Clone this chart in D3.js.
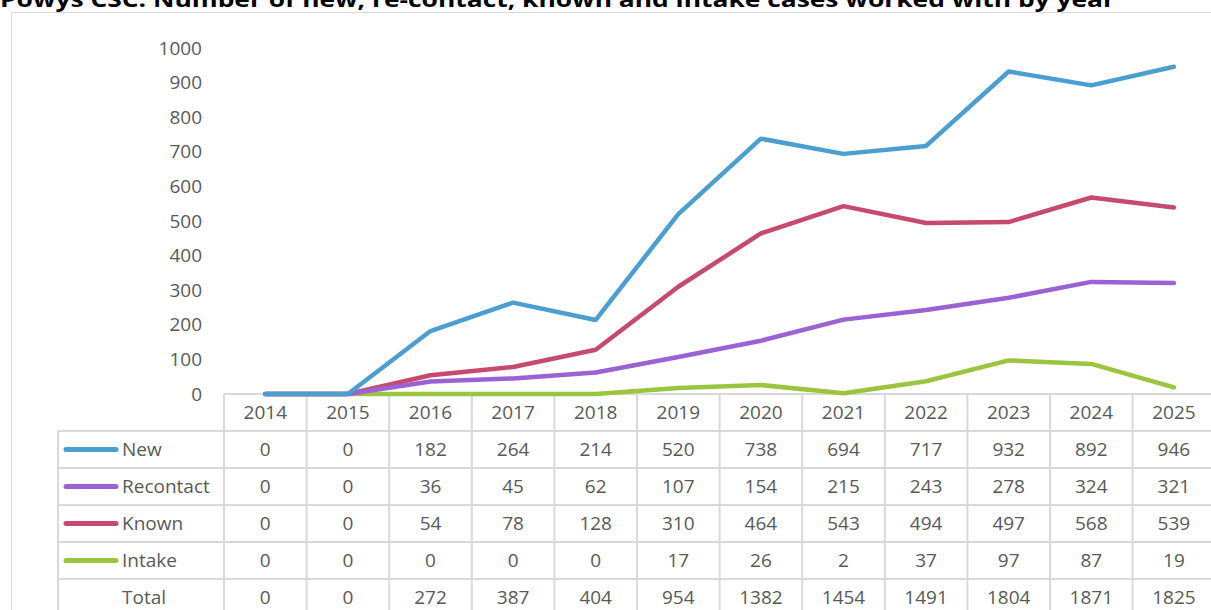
<!DOCTYPE html>
<html>
<head>
<meta charset="utf-8">
<script src="https://cdn.jsdelivr.net/npm/d3@7"></script>
<style>
  body { margin: 0; background: #fff; }
  svg { display: block; font-family: "Open Sans", sans-serif; }
</style>
</head>
<body>
<svg></svg>
<script>
var width = 1211;
var height = 610;

// data
var years = ["2014", "2015", "2016", "2017", "2018", "2019", "2020", "2021", "2022", "2023", "2024", "2025"];
var seriesNames = ["New", "Recontact", "Known", "Intake"];
var newCases = [0, 0, 182, 264, 214, 520, 738, 694, 717, 932, 892, 946];
var recontact = [0, 0, 36, 45, 62, 107, 154, 215, 243, 278, 324, 321];
var known = [0, 0, 54, 78, 128, 310, 464, 543, 494, 497, 568, 539];
var intake = [0, 0, 0, 0, 0, 17, 26, 2, 37, 97, 87, 19];
var totals = [0, 0, 272, 387, 404, 954, 1382, 1454, 1491, 1804, 1871, 1825];
var yTicks = [0, 100, 200, 300, 400, 500, 600, 700, 800, 900, 1000];
var colors = ["#4a9fd0", "#9b62d3", "#c64a6d", "#9bc53f"];

var series = [newCases, recontact, known, intake];

const svg = d3.select('svg')
    .attr('width', width)
    .attr('height', height);

svg.append('rect')
    .attr('width', width).attr('height', height)
    .attr('fill', '#fff');

// chart frame
svg.append('rect')
    .attr('x', 11.5).attr('y', 12.5)
    .attr('width', width).attr('height', height)
    .attr('fill', 'none')
    .attr('stroke', '#d9d9d9');

// title, cut off at the top edge as in the original
svg.append('text')
    .attr('x', 0).attr('y', 7)
    .attr('font-size', 22)
    .attr('font-weight', 'bold')
    .attr('fill', '#000')
    .attr('textLength', 1115)
    .attr('lengthAdjust', 'spacingAndGlyphs')
    .text("Powys CSC: Number of new, re-contact, known and intake cases worked with by year");

const x = d3.scaleBand()
    .domain(years)
    .range([224, 224 + 12 * 82.6]);

const y = d3.scaleLinear()
    .domain([0, 1000])
    .range([394, 48]);

// y tick labels
svg.append('g').selectAll('text')
    .data(yTicks)
    .enter().append('text')
    .attr('x', 202)
    .attr('y', d => y(d))
    .attr('dy', '0.35em')
    .attr('text-anchor', 'end')
    .attr('font-size', 19)
    .attr('fill', '#595959')
    .text(d => d);

// table
var rowTop = 394;
var headerH = 37;
var rowH = 37;
var tableLeft = 58;
var tableRight = width + 10;
var grid = svg.append('g')
    .attr('stroke', '#d9d9d9')
    .attr('stroke-width', 2);

grid.append('line')
    .attr('x1', x(years[0])).attr('x2', tableRight)
    .attr('y1', rowTop).attr('y2', rowTop);

var rowLines = d3.range(6).map(i => rowTop + headerH + i * rowH);
grid.selectAll('.hline')
    .data(rowLines)
    .enter().append('line')
    .attr('x1', tableLeft).attr('x2', tableRight)
    .attr('y1', d => d).attr('y2', d => d);

var colEdges = years.map(d => x(d)).concat([x(years[11]) + x.bandwidth()]);
grid.selectAll('.vline')
    .data(colEdges)
    .enter().append('line')
    .attr('x1', d => d).attr('x2', d => d)
    .attr('y1', rowTop).attr('y2', height + 10);

grid.append('line')
    .attr('x1', tableLeft).attr('x2', tableLeft)
    .attr('y1', rowTop + headerH).attr('y2', height + 10);

// header years
svg.append('g').selectAll('text')
    .data(years)
    .enter().append('text')
    .attr('x', d => x(d) + x.bandwidth() / 2)
    .attr('y', rowTop + headerH / 2)
    .attr('dy', '0.35em')
    .attr('text-anchor', 'middle')
    .attr('font-size', 19)
    .attr('fill', '#595959')
    .text(d => d);

// data rows
var rows = series.concat([totals]);
var labels = seriesNames.concat(["Total"]);
rows.forEach(function(vals, r) {
    var cy = rowTop + headerH + r * rowH + rowH / 2;
    var g = svg.append('g');
    if (r < 4) {
        g.append('line')
            .attr('x1', 66).attr('x2', 116)
            .attr('y1', cy).attr('y2', cy)
            .attr('stroke', colors[r])
            .attr('stroke-width', 5)
            .attr('stroke-linecap', 'round');
    }
    g.append('text')
        .attr('x', 122).attr('y', cy)
        .attr('dy', '0.35em')
        .attr('font-size', 19)
        .attr('fill', '#595959')
        .text(labels[r]);
    g.selectAll('.val')
        .data(vals)
        .enter().append('text')
        .attr('x', (d, i) => x(years[i]) + x.bandwidth() / 2)
        .attr('y', cy)
        .attr('dy', '0.35em')
        .attr('text-anchor', 'middle')
        .attr('font-size', 19)
        .attr('fill', '#595959')
        .text(d => d);
});

// lines (intake drawn first so it sits under the others at zero)
const line = d3.line()
    .x((d, i) => x(years[i]) + x.bandwidth() / 2)
    .y(d => y(d));

[3, 2, 1, 0].forEach(function(s) {
    svg.append('path')
        .datum(series[s])
        .attr('d', line)
        .attr('fill', 'none')
        .attr('stroke', colors[s])
        .attr('stroke-width', 4.5)
        .attr('stroke-linecap', 'round')
        .attr('stroke-linejoin', 'round');
});
</script>
</body>
</html>
